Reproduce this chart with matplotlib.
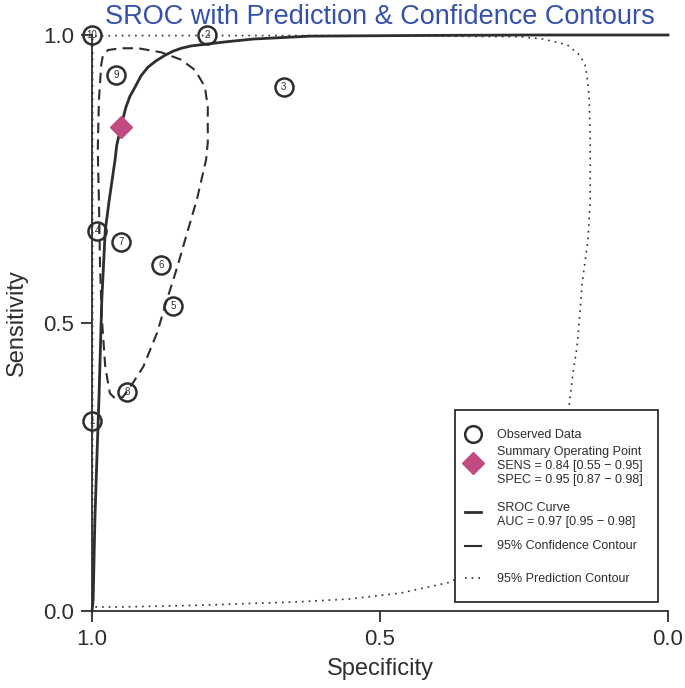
import matplotlib
matplotlib.use('Agg')
import matplotlib.pyplot as plt
from matplotlib.lines import Line2D
from matplotlib.patches import Rectangle

plt.rcParams['font.family'] = ['Liberation Sans', 'DejaVu Sans']

# Observed studies (specificity, sensitivity)
study_ids = [1, 2, 3, 4, 5, 6, 7, 8, 9, 10]
study_spec = [1.0, 0.80, 0.667, 0.991, 0.859, 0.88, 0.95, 0.939, 0.958, 1.0]
study_sens = [0.33, 1.0, 0.91, 0.66, 0.53, 0.60, 0.64, 0.38, 0.93, 1.0]

# Summary operating point
summary_spec = 0.95
summary_sens = 0.84

# SROC curve
sroc_spec = [1.0, 0.998, 0.995, 0.991, 0.988, 0.983, 0.977, 0.970, 0.960, 0.957,
             0.951, 0.946, 0.941, 0.934, 0.925, 0.915, 0.903, 0.889, 0.873, 0.859,
             0.845, 0.828, 0.811, 0.769, 0.720, 0.622, 0.465, 0.250, 0.0]
sroc_sens = [0.0, 0.019, 0.158, 0.280, 0.366, 0.540, 0.661, 0.714, 0.783, 0.809,
             0.835, 0.856, 0.875, 0.894, 0.910, 0.929, 0.944, 0.955, 0.965, 0.972,
             0.977, 0.981, 0.983, 0.988, 0.993, 0.998, 0.999, 1.0, 1.0]

# 95% confidence contour (closed)
conf_spec = [0.988, 0.990, 0.988, 0.984, 0.981, 0.972, 0.950, 0.920, 0.880, 0.845,
             0.821, 0.804, 0.799, 0.799, 0.802, 0.818, 0.835, 0.852, 0.870, 0.887,
             0.911, 0.929, 0.946, 0.957, 0.969, 0.977, 0.983, 0.986, 0.988]
conf_sens = [0.714, 0.800, 0.887, 0.948, 0.965, 0.974, 0.977, 0.977, 0.970, 0.957,
             0.939, 0.910, 0.875, 0.813, 0.783, 0.714, 0.656, 0.597, 0.540, 0.483,
             0.424, 0.396, 0.372, 0.366, 0.378, 0.424, 0.510, 0.597, 0.714]

# 95% prediction contour (closed)
pred_spec = [0.998, 0.999, 0.999, 0.999, 0.999, 0.95, 0.80, 0.60, 0.40, 0.257,
             0.217, 0.175, 0.153, 0.144, 0.141, 0.137, 0.135, 0.135, 0.139, 0.149,
             0.153, 0.158, 0.165, 0.172, 0.188, 0.222, 0.274, 0.326, 0.378, 0.465,
             0.552, 0.639, 0.812, 0.951, 0.998]
pred_sens = [0.007, 0.10, 0.50, 0.90, 0.998, 0.999, 0.999, 0.999, 0.998, 0.997,
             0.993, 0.983, 0.965, 0.948, 0.931, 0.896, 0.818, 0.714, 0.644, 0.569,
             0.517, 0.458, 0.413, 0.354, 0.280, 0.193, 0.123, 0.080, 0.050, 0.031,
             0.021, 0.016, 0.010, 0.007, 0.007]

legend_labels = [
    'Observed Data',
    'Summary Operating Point\nSENS = 0.84 [0.55 \u2212 0.95]\nSPEC = 0.95 [0.87 \u2212 0.98]',
    'SROC Curve\nAUC = 0.97 [0.95 \u2212 0.98]',
    '95% Confidence Contour',
    '95% Prediction Contour',
]

ink = '#2e2e2e'
pink = '#c24a80'
title_blue = '#3550ad'

fig = plt.figure(figsize=(6.85, 6.88), dpi=100)
ax = fig.add_axes([92 / 685, 77 / 688, 576 / 685, 576 / 688])

ax.plot(pred_spec, pred_sens, color=ink, lw=1.2, ls=(0, (1, 3)), clip_on=False)
ax.plot(conf_spec, conf_sens, color=ink, lw=1.5, ls=(0, (5, 3)), clip_on=False)
ax.plot(sroc_spec, sroc_sens, color=ink, lw=2.0, clip_on=False)

ax.plot(study_spec, study_sens, 'o', ms=13, mfc='none', mec=ink, mew=1.8,
        clip_on=False)
for sid, x, y in zip(study_ids, study_spec, study_sens):
    ax.text(x, y, str(sid), ha='center', va='center', fontsize=7, color=ink)

ax.plot([summary_spec], [summary_sens], 'D', ms=11, color=pink, clip_on=False)

ax.set_xlim(1, 0)
ax.set_ylim(0, 1)
ax.set_xticks([1.0, 0.5, 0.0])
ax.set_xticklabels(['1.0', '0.5', '0.0'])
ax.set_yticks([0.0, 0.5, 1.0])
ax.set_yticklabels(['0.0', '0.5', '1.0'])
for side in ['top', 'right']:
    ax.spines[side].set_visible(False)
for side in ['left', 'bottom']:
    ax.spines[side].set_linewidth(1.3)
    ax.spines[side].set_color(ink)
ax.tick_params(direction='out', length=8, width=1.3, labelsize=16, pad=5,
               colors=ink)

ax.set_xlabel('Specificity', fontsize=17, labelpad=6, color=ink)
ax.set_ylabel('Sensitivity', fontsize=17, labelpad=11, color=ink)
ax.set_title('SROC with Prediction & Confidence Contours', fontsize=19.5,
             color=title_blue, pad=8)

# Legend box drawn by hand (R style, uneven row spacing)
tr = ax.transAxes
ax.add_patch(Rectangle((0.630, 0.0156), 0.353, 0.333, transform=tr,
                       facecolor='white', edgecolor=ink, lw=1.3, zorder=5,
                       clip_on=False))
handle_y = [0.307, 0.257, 0.172, 0.113, 0.057]
text_y = [0.305, 0.252, 0.167, 0.112, 0.056]
hx0, hx1, hxc, tx = 0.648, 0.675, 0.661, 0.703
handles = [
    Line2D([hxc], [handle_y[0]], marker='o', ls='none', ms=12, mfc='none',
           mec=ink, mew=1.8),
    Line2D([hxc], [handle_y[1]], marker='D', ls='none', ms=11, color=pink),
    Line2D([hx0, hx1], [handle_y[2]] * 2, color=ink, lw=2.0),
    Line2D([hx0, hx1], [handle_y[3]] * 2, color=ink, lw=1.5),
    Line2D([hx0, hx1], [handle_y[4]] * 2, color=ink, lw=1.2, ls=(0, (1, 3))),
]
for h, y, lab in zip(handles, text_y, legend_labels):
    h.set_transform(tr)
    h.set_zorder(6)
    h.set_clip_on(False)
    ax.add_line(h)
    ax.text(tx, y, lab, transform=tr, ha='left', va='center', fontsize=9,
            color=ink, linespacing=1.22, zorder=6)

fig.savefig('out.png', dpi=100)
plt.close(fig)
